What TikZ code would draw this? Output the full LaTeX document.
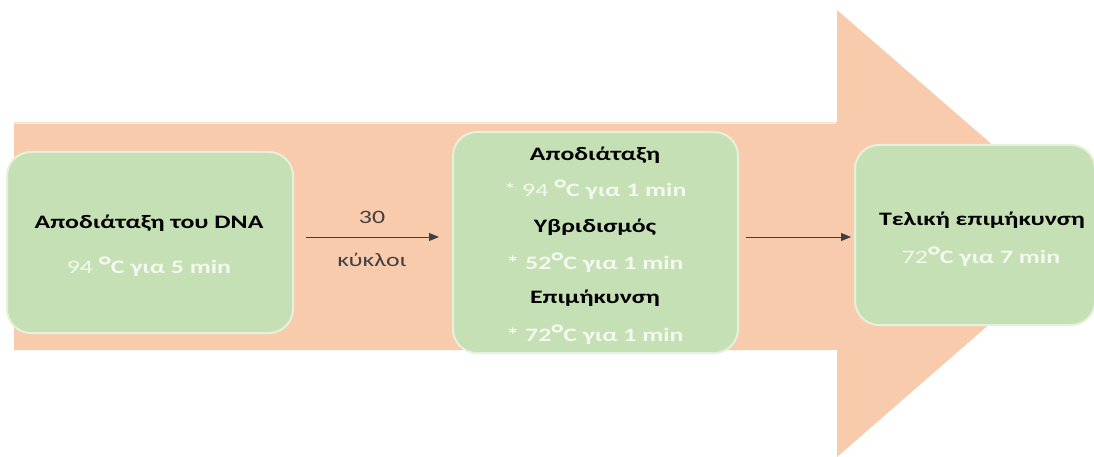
\documentclass[tikz,border=0pt]{standalone}
\usepackage{fontspec}
\usepackage{graphicx}
\setmainfont{Carlito}
\usetikzlibrary{arrows.meta}
\definecolor{salmon}{HTML}{F8CBAD}
\definecolor{boxgreen}{HTML}{C5E0B4}
\definecolor{tempwhite}{HTML}{F4F8F0}
\definecolor{arrowgray}{HTML}{404040}
% wide setting of the lettering
\newcommand\wset[1]{\scalebox{1.36}[1]{#1}}
% a larger degree sign
\newcommand\dgr{\raisebox{-0.1ex}{\scalebox{1.35}{°}}}
\begin{document}
\begin{tikzpicture}[x=1pt,y=-1pt,
  box/.style={fill=boxgreen, draw=white!55!boxgreen, line width=2pt,
    rounded corners=24pt, inner sep=0pt},
  head/.style={font=\bfseries\fontsize{19}{22}\selectfont, text=black},
  temp/.style={font=\bfseries\fontsize{19}{22}\selectfont, text=tempwhite},
  lbl/.style={font=\fontsize{19}{22}\selectfont, text=arrowgray},
  flow/.style={-{Triangle[length=10pt,width=8pt]}, draw=arrowgray, line width=1pt}]
\useasboundingbox (0,0) rectangle (1094,457);
% large background arrow
\fill[salmon] (14,122) -- (837,122) -- (837,10) -- (1094,233)
  -- (837,457) -- (837,350) -- (14,350) -- cycle;
\draw[white!50!salmon, line width=1.5pt] (14,123) -- (836,123);
% stage boxes
\node[box, minimum width=286pt, minimum height=181pt] (b1) at (150,242.5) {};
\node[box, minimum width=285pt, minimum height=221pt] (b2) at (595.5,242.5) {};
\node[box, minimum width=240pt, minimum height=180pt] (b3) at (975,235) {};
% texts of the first stage
\node[head] (t1a) at (149,223) {\wset{Αποδιάταξη του DNA}};
\node[temp] (t1b) at (149,267) {\wset{\mdseries 94 \bfseries\dgr C για 5 min}};
% texts of the cycled stage
\node[head] (t2a) at (595,155) {\wset{Αποδιάταξη}};
\node[temp] (t2b) at (595,190) {\wset{\mdseries * 94 \bfseries\dgr C για 1 min}};
\node[head] (t2c) at (595,227) {\wset{Υβριδισμός}};
\node[temp] (t2d) at (595,263) {\wset{* 52\dgr C για 1 min}};
\node[head] (t2e) at (595,298) {\wset{Επιμήκυνση}};
\node[temp] (t2f) at (595,335) {\wset{* 72\dgr C για 1 min}};
% texts of the final stage
\node[head] (t3a) at (982,220) {\wset{Τελική επιμήκυνση}};
\node[temp] (t3b) at (981,257) {\wset{\mdseries 72\bfseries\dgr C για 7 min}};
% connectors
\draw[flow] ([xshift=12pt,yshift=5.5pt]b1.east) -- ([xshift=-13pt,yshift=5.5pt]b2.west);
\draw[flow] ([xshift=7pt,yshift=5.5pt]b2.east) -- ([xshift=-3pt,yshift=-2pt]b3.west);
\node[lbl] (c1) at (372,217) {\wset{30}};
\node[lbl] (c2) at (372,260) {\wset{κύκλοι}};
\end{tikzpicture}
\end{document}
